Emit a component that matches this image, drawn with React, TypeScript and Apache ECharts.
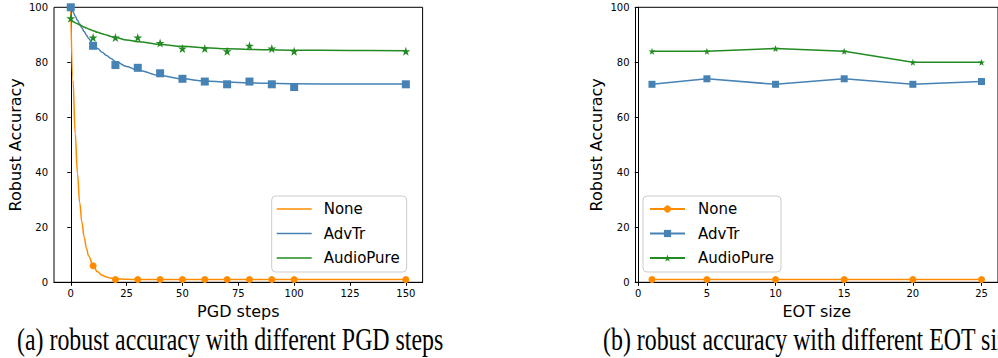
import React, { useEffect, useRef } from "react";
import * as echarts from "echarts";

// ---- Data: panel (a) PGD steps ----
const pgdSteps = [0, 10, 20, 30, 40, 50, 60, 70, 80, 90, 100, 150];
const noneAcc = [100, 6, 1, 1, 1, 1, 1, 1, 1, 1, 1, 1];
const advTrAcc = [100, 86, 79, 78, 76, 74, 73, 72, 73, 72, 71, 72];
const audioPureAcc = [96, 89, 89, 89, 87, 85, 85, 84, 86, 85, 84, 84];

// fitted curves
const curveX = [0, 1, 2, 3, 4, 5, 6, 7, 8, 10, 12, 14, 16, 18, 20, 25, 30, 40, 50, 60, 70, 80, 100, 125, 150];
const noneCurve = [100, 73.5, 54, 39.5, 29, 21.8, 16.4, 12.4, 9.6, 6.0, 3.8, 2.6, 1.9, 1.5, 1.3, 1.1, 1.0, 1, 1, 1, 1, 1, 1, 1, 1];
const advTrCurve = [100, 98.4, 96.8, 95.3, 93.9, 92.5, 91.2, 89.9, 88.7, 86.5, 85.0, 83.7, 82.5, 81.4, 80.3, 78.5, 77.1, 75.2, 74.0, 73.2, 72.8, 72.5, 72.2, 72.1, 72.1];
const audioPureCurve = [95.2, 94.8, 94.4, 94.0, 93.6, 93.2, 92.8, 92.5, 92.1, 91.5, 90.9, 90.4, 89.9, 89.4, 89.0, 88.1, 87.5, 86.5, 85.8, 85.3, 84.9, 84.7, 84.4, 84.3, 84.2];

const pgdTicks = [0, 25, 50, 75, 100, 125, 150];

// ---- Data: panel (b) EOT size ----
const eotSize = [1, 5, 10, 15, 20, 25];
const eotNone = [1, 1, 1, 1, 1, 1];
const eotAdvTr = [72, 74, 72, 74, 72, 73];
const eotAudioPure = [84, 84, 85, 84, 80, 80];
const eotTicks = [0, 5, 10, 15, 20, 25];

const seriesNames = ["None", "AdvTr", "AudioPure"];

const ORANGE = "#ff8c00";
const BLUE = "#4682b4";
const GREEN = "#228b22";
const FONT = "DejaVu Sans";
const STAR = "path://M50,0L61.2,34.5L97.6,34.5L68.2,55.9L79.4,90.5L50,69.1L20.6,90.5L31.8,55.9L2.4,34.5L38.8,34.5Z";
const LINE_ICON = "path://M0,0H35V1.5H0Z";

const zip = (xs: number[], ys: number[]) => xs.map((x, i) => [x, ys[i]]);

export default function App() {
  const ref = useRef<HTMLDivElement>(null);
  useEffect(() => {
    document.body.style.margin = "0";
    const chart = echarts.init(ref.current!, undefined, { renderer: "svg" });

    const xAxisCommon = (idx: number, min: number, max: number, ticks: number[], name: string) => ({
      type: "value",
      gridIndex: idx,
      min,
      max,
      name,
      nameLocation: "middle",
      nameGap: 20,
      nameTextStyle: { fontSize: 16, fontFamily: FONT, color: "#000" },
      axisLine: { show: true, lineStyle: { color: "#000", width: 1 } },
      axisTick: { show: true, length: 3.5, customValues: ticks, lineStyle: { color: "#000" } },
      axisLabel: { customValues: ticks, fontSize: 10, fontFamily: FONT, color: "#000", margin: 6 },
      splitLine: { show: false },
    });
    const yAxisCommon = (idx: number) => ({
      type: "value",
      gridIndex: idx,
      min: 0,
      max: 100,
      interval: 20,
      name: "Robust Accuracy",
      nameLocation: "middle",
      nameGap: 31,
      nameTextStyle: { fontSize: 16, fontFamily: FONT, color: "#000" },
      axisLine: { show: true, lineStyle: { color: "#000", width: 1 } },
      axisTick: { show: true, length: 3.5, lineStyle: { color: "#000" } },
      axisLabel: { fontSize: 10, fontFamily: FONT, color: "#000", margin: 6 },
      splitLine: { show: false },
    });

    const colors = [ORANGE, BLUE, GREEN];
    const curves = [noneCurve, advTrCurve, audioPureCurve];
    const points = [noneAcc, advTrAcc, audioPureAcc];
    const eotVals = [eotNone, eotAdvTr, eotAudioPure];
    const symbolsA = ["circle", "rect", STAR];
    const sizesA = [7, 8, 9];
    const sizesB = [7, 7, 7];

    const series: any[] = [];
    seriesNames.forEach((n, i) => {
      series.push({
        name: n,
        type: "line",
        xAxisIndex: 0,
        yAxisIndex: 0,
        data: zip(curveX, curves[i]),
        smooth: 0.4,
        smoothMonotone: "x",
        symbol: "none",
        lineStyle: { color: colors[i], width: 1.5 },
        itemStyle: { color: colors[i] },
        z: 2,
      });
    });
    seriesNames.forEach((n, i) => {
      series.push({
        name: n + " pts",
        type: "scatter",
        xAxisIndex: 0,
        yAxisIndex: 0,
        data: zip(pgdSteps, points[i]),
        symbol: symbolsA[i],
        symbolSize: sizesA[i],
        itemStyle: { color: colors[i], opacity: 1 },
        z: 3,
      });
    });
    seriesNames.forEach((n, i) => {
      series.push({
        name: n + "_b",
        type: "line",
        xAxisIndex: 1,
        yAxisIndex: 1,
        data: zip(eotSize, eotVals[i]),
        symbol: symbolsA[i],
        symbolSize: sizesB[i],
        showSymbol: true,
        lineStyle: { color: colors[i], width: 1.5 },
        itemStyle: { color: colors[i] },
      });
    });

    const legendCommon = {
      orient: "vertical",
      borderColor: "#cccccc",
      borderWidth: 1,
      borderRadius: 4,
      backgroundColor: "rgba(255,255,255,0.8)",
      itemWidth: 35,
      itemGap: 8.5,
      selectedMode: false,
      textStyle: { fontSize: 15, fontFamily: FONT, color: "#000", lineHeight: 16 },
    };

    chart.setOption({
      animation: false,
      grid: [
        { left: 54, top: 7.3, width: 368.6, height: 275, show: true, borderColor: "#000", borderWidth: 1, backgroundColor: "transparent" },
        { left: 635.5, top: 7.3, width: 368, height: 275, show: true, borderColor: "#000", borderWidth: 1, backgroundColor: "transparent" },
      ],
      xAxis: [
        xAxisCommon(0, -7.5, 157.5, pgdTicks, "PGD steps"),
        xAxisCommon(1, -0.2, 26.2, eotTicks, "EOT size"),
      ],
      yAxis: [yAxisCommon(0), yAxisCommon(1)],
      legend: [
        {
          ...legendCommon,
          left: 271.7,
          top: 196,
          padding: [5, 7, 6, 5],
          itemHeight: 10,
          textStyle: { ...legendCommon.textStyle, padding: [0, 0, 0, 7] },
          data: seriesNames.map((n) => ({ name: n, icon: LINE_ICON })),
        },
        {
          ...legendCommon,
          left: 643,
          top: 196,
          padding: [5, 7, 6, 6],
          itemHeight: 9,
          textStyle: { ...legendCommon.textStyle, padding: [0, 0, 0, 8] },
          formatter: (name: string) => name.replace("_b", ""),
          data: seriesNames.map((n) => n + "_b"),
        },
      ],
      graphic: [
        {
          type: "text",
          x: 17,
          y: 339.5,
          scaleX: 0.77,
          style: {
            text: "(a) robust accuracy with different PGD steps",
            fontSize: 31,
            fontFamily: "Liberation Serif",
            fill: "#000",
            align: "left",
            verticalAlign: "middle",
          },
        },
        {
          type: "text",
          x: 603,
          y: 339.5,
          scaleX: 0.77,
          style: {
            text: "(b) robust accuracy with different EOT size",
            fontSize: 31,
            fontFamily: "Liberation Serif",
            fill: "#000",
            align: "left",
            verticalAlign: "middle",
          },
        },
      ],
      series,
    });
    return () => chart.dispose();
  }, []);
  return <div ref={ref} style={{ position: "absolute", left: 0, top: 0, width: 998, height: 358 }} />;
}
